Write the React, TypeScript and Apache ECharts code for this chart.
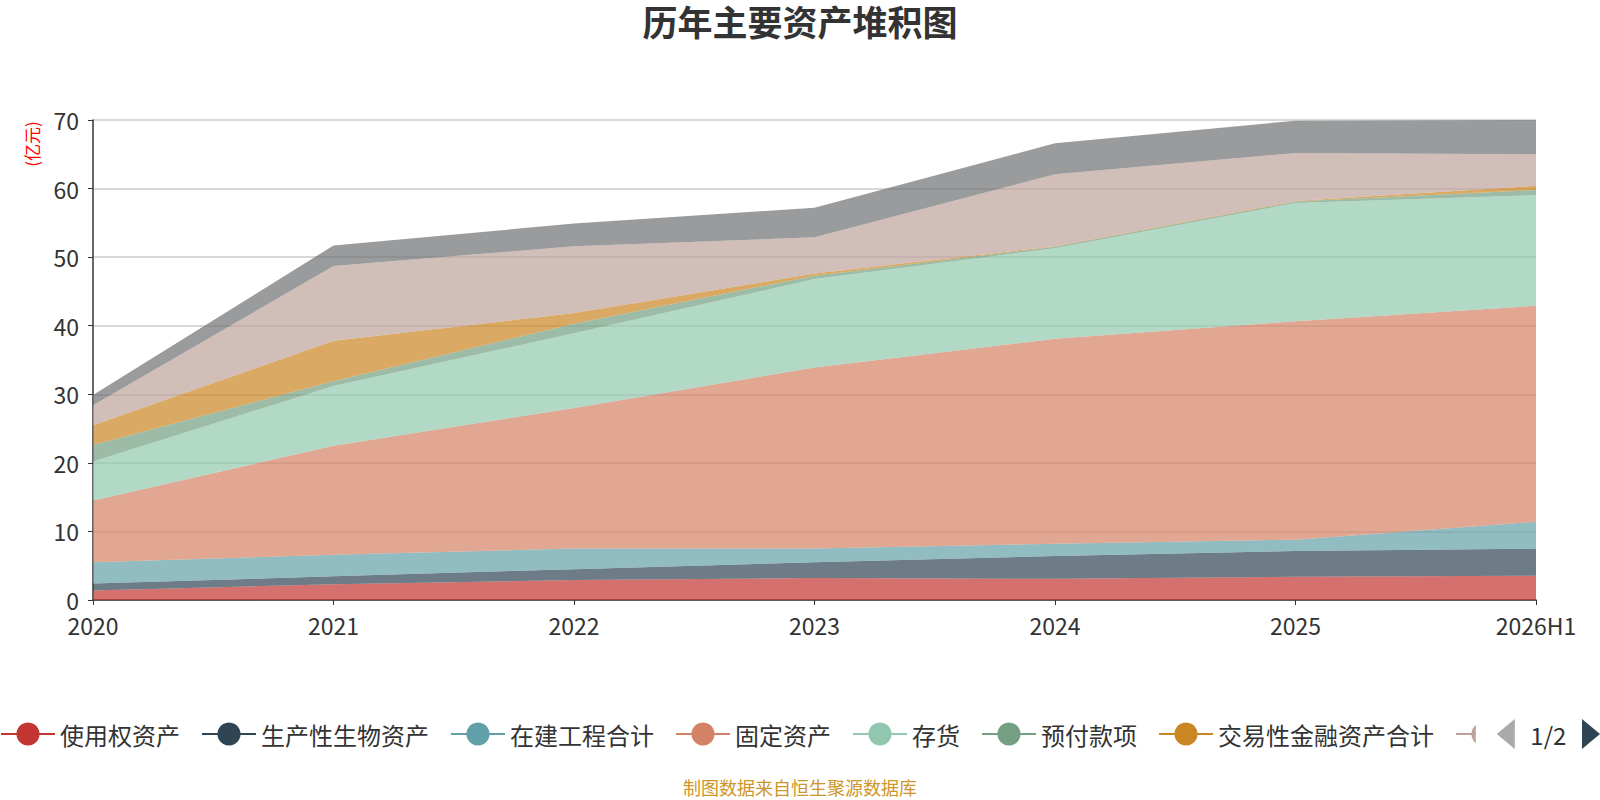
import { useEffect, useRef } from "react";
import * as echarts from "echarts";

const years = ["2020", "2021", "2022", "2023", "2024", "2025", "2026H1"];

// 亿元, stacked bottom to top
const rightOfUse = [1.4, 2.3, 2.9, 3.2, 3.1, 3.4, 3.55];
const bioAssets = [1.0, 1.15, 1.6, 2.3, 3.3, 3.75, 3.95];
const construction = [3.1, 3.15, 3.0, 2.0, 1.8, 1.65, 3.9];
const fixedAssets = [9.0, 15.9, 20.5, 26.4, 29.9, 31.85, 31.5];
const inventory = [5.7, 8.7, 10.9, 12.9, 13.2, 17.25, 16.15];
const prepayments = [2.4, 0.7, 1.4, 0.5, 0.2, 0.2, 0.75];
const tradingAssets = [2.9, 5.9, 1.55, 0.3, 0.1, 0.1, 0.6];
const receivables = [2.9, 10.9, 9.75, 5.3, 10.5, 7.0, 4.6];
const cash = [1.5, 3.0, 3.3, 4.3, 4.5, 4.7, 5.0];

const seriesNames = [
  "使用权资产",
  "生产性生物资产",
  "在建工程合计",
  "固定资产",
  "存货",
  "预付款项",
  "交易性金融资产合计",
  "应收账款",
  "货币资金",
];
const seriesValues = [
  rightOfUse,
  bioAssets,
  construction,
  fixedAssets,
  inventory,
  prepayments,
  tradingAssets,
  receivables,
  cash,
];

const palette = [
  "#c23531",
  "#2f4554",
  "#61a0a8",
  "#d48265",
  "#91c7ae",
  "#749f83",
  "#ca8622",
  "#bda29a",
  "#6e7074",
];

const FONT = "'Noto Sans CJK SC', 'Noto Sans', sans-serif";

export default function App() {
  const chartRef = useRef<HTMLDivElement>(null);

  useEffect(() => {
    if (!chartRef.current) return;
    document.body.style.margin = "0";
    const chart = echarts.init(chartRef.current, null, { renderer: "svg" });

    const option: echarts.EChartsOption = {
      animation: false,
      color: palette,
      textStyle: { fontFamily: FONT },
      title: {
        text: "历年主要资产堆积图",
        left: "center",
        top: 3,
        padding: 0,
        textStyle: { fontSize: 35, fontWeight: "bold", color: "#333", fontFamily: FONT },
      },
      grid: { left: 93, right: 64, top: 120, bottom: 200 },
      legend: {
        type: "scroll",
        top: 719,
        left: 0,
        right: 0,
        padding: 0,
        itemWidth: 54,
        itemHeight: 29,
        itemGap: 21,
        lineStyle: { width: 2 },
        textStyle: { fontSize: 24, color: "#333", fontFamily: FONT },
        pageIconSize: 30,
        pageIconColor: "#2f4554",
        pageIconInactiveColor: "#aaa",
        pageTextStyle: { fontSize: 24, color: "#333", fontFamily: FONT },
        data: seriesNames,
      },
      xAxis: {
        type: "category",
        boundaryGap: false,
        data: years,
        axisLine: { lineStyle: { color: "#333", width: 1.5 } },
        axisTick: { show: true, lineStyle: { color: "#333" } },
        axisLabel: { fontSize: 23, color: "#333", margin: 13 },
      },
      yAxis: {
        type: "value",
        min: 0,
        max: 70,
        interval: 10,
        axisLine: { show: true, lineStyle: { color: "#333", width: 1.5 } },
        axisTick: { show: true, lineStyle: { color: "#333" } },
        axisLabel: { fontSize: 23, color: "#333", margin: 14 },
        splitLine: { lineStyle: { color: "#ccc", width: 1.5 } },
      },
      graphic: [
        {
          type: "text",
          x: 31,
          y: 144,
          rotation: Math.PI / 2,
          style: {
            text: "(亿元)",
            fill: "#ff0000",
            fontSize: 17,
            fontFamily: FONT,
            align: "center",
            verticalAlign: "middle",
          },
        },
        {
          type: "text",
          x: 800,
          y: 787,
          style: {
            text: "制图数据来自恒生聚源数据库",
            fill: "#cd9628",
            fontSize: 18,
            lineHeight: 20,
            fontFamily: FONT,
            align: "center",
            verticalAlign: "middle",
          },
        },
      ],
      series: seriesNames.map((name, i) => ({
        name,
        type: "line",
        stack: "total",
        data: seriesValues[i],
        symbol: "circle",
        showSymbol: false,
        lineStyle: { width: 0 },
        areaStyle: { opacity: 0.7 },
      })),
    };

    chart.setOption(option);
    return () => chart.dispose();
  }, []);

  return <div ref={chartRef} style={{ width: 1600, height: 800 }} />;
}
